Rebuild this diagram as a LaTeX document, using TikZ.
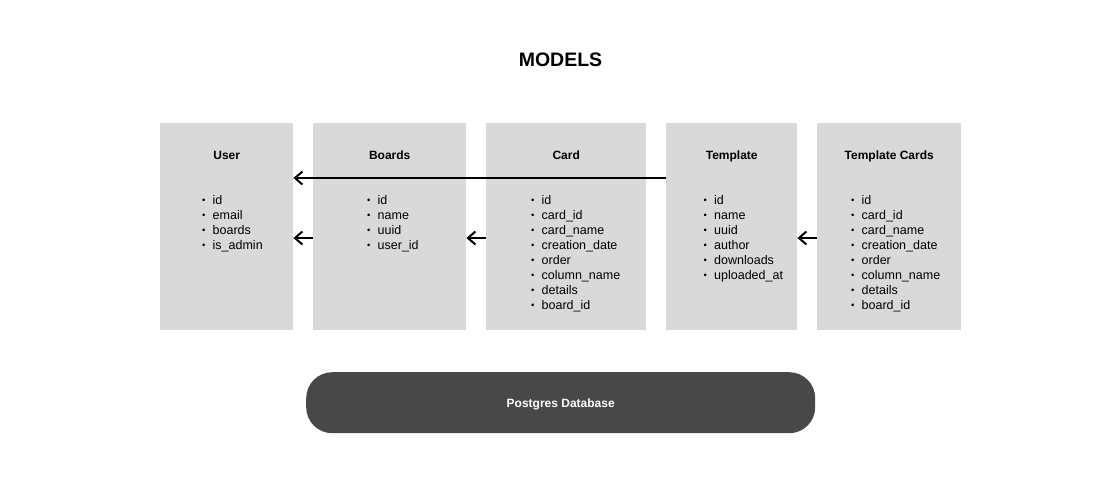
\documentclass[tikz,border=0pt]{standalone}
\usepackage{fontspec}
\setmainfont{Liberation Sans}
\usetikzlibrary{arrows.meta}
\definecolor{boxgray}{HTML}{D9D9D9}
\definecolor{dbgray}{HTML}{484848}
\begin{document}
\begin{tikzpicture}[x=1pt,y=-1pt,
  entity/.style={fill=boxgray, draw=none, inner sep=0, anchor=north west, minimum height=207},
  heading/.style={font=\bfseries\fontsize{12}{14}\selectfont, anchor=base, inner sep=0},
  field/.style={font=\fontsize{12.5}{15}\selectfont, anchor=base west, inner sep=0},
  dot/.style={font=\fontsize{10}{12}\selectfont},
  arr/.style={-{Straight Barb[length=7.5pt,width=13pt,line width=2pt]}, line width=2pt, draw=black}]
\useasboundingbox (0,0) rectangle (1102,480);
\node[font=\bfseries\fontsize{19.5}{22}\selectfont, anchor=base, inner sep=0] (models) at (560.5,66) {MODELS};
% entity boxes
\node[entity, minimum width=133] (user) at (160,123) {};
\node[entity, minimum width=153] (boards) at (313,123) {};
\node[entity, minimum width=160] (card) at (486,123) {};
\node[entity, minimum width=131] (template) at (666,123) {};
\node[entity, minimum width=144] (tcards) at (817,123) {};
% headings
\path (user.north) ++(0,36) node[heading] (usert) {User};
\path (boards.north) ++(0,36) node[heading] (boardst) {Boards};
\path (card.north) ++(0,36) node[heading] (cardt) {Card};
\path (template.north) ++(0,36) node[heading] (templatet) {Template};
\path (tcards.north) ++(0,36) node[heading] (tcardst) {Template Cards};
% fields
\newcommand{\fielddot}{\makebox[10.5pt][l]{\raisebox{0.6pt}{\fontsize{9.5}{12}\selectfont •}}}
\foreach \t [count=\i] in {id,email,boards,is\_admin}
  \node[field] (user-\i) at (202,189+15*\i) {\fielddot\t};
\foreach \t [count=\i] in {id,name,uuid,user\_id}
  \node[field] (boards-\i) at (367,189+15*\i) {\fielddot\t};
\foreach \t [count=\i] in {id,card\_id,card\_name,creation\_date,order,column\_name,details,board\_id}
  \node[field] (card-\i) at (531,189+15*\i) {\fielddot\t};
\foreach \t [count=\i] in {id,name,uuid,author,downloads,uploaded\_at}
  \node[field] (template-\i) at (703.5,189+15*\i) {\fielddot\t};
\foreach \t [count=\i] in {id,card\_id,card\_name,creation\_date,order,column\_name,details,board\_id}
  \node[field] (tcards-\i) at (851,189+15*\i) {\fielddot\t};
% connectors
\coordinate (rowa) at (0,178);
\coordinate (rowb) at (0,238);
\draw[arr] (template.west |- rowa) -- (user.east |- rowa);
\draw[arr] (boards.west |- rowb) -- (user.east |- rowb);
\draw[arr] (card.west |- rowb) -- (boards.east |- rowb);
\draw[arr] (tcards.west |- rowb) -- (template.east |- rowb);
% database
\node[fill=dbgray, rounded corners=26pt, anchor=north west, minimum width=509, minimum height=61, inner sep=0] (db) at (306,372) {};
\node[font=\bfseries\fontsize{12}{14}\selectfont, text=white, inner sep=0, anchor=base] (dbt) at ([yshift=-4.5pt]db.center) {Postgres Database};
\end{tikzpicture}
\end{document}
